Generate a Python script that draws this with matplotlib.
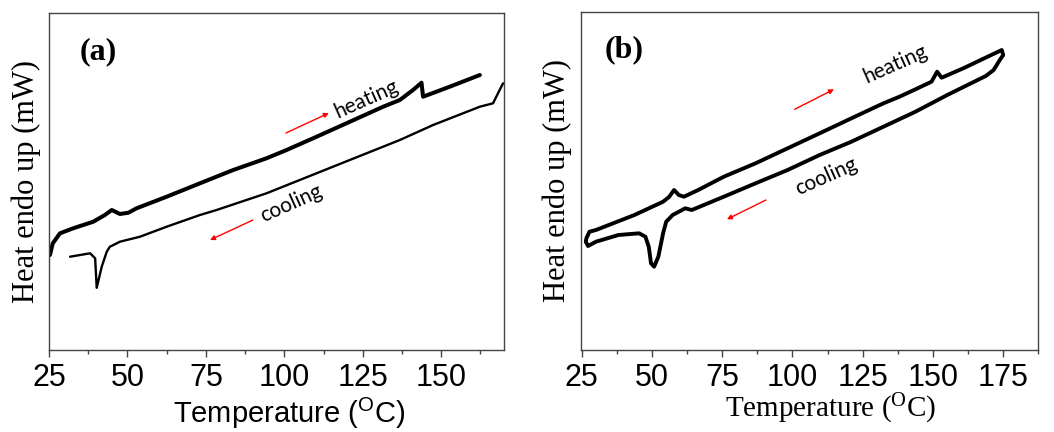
import matplotlib
matplotlib.use('agg')
from matplotlib import pyplot as plt

# panel (a): temperature (C) and signal (arbitrary units)
heat_a_t = [25.3, 26.2, 28.5, 32.7, 39.1, 42.8, 45.0, 47.6, 50.3, 52.9, 62.5, 73.1,
            83.7, 94.3, 100.7, 110.3, 120.9, 131.5, 136.8, 141.0, 143.7, 144.2, 152.7, 162.3]
heat_a_y = [95, 106.7, 116.7, 121.7, 128.3, 135, 140, 136, 137.3, 141.7, 153.3, 166.7,
            180, 191.7, 200, 213.3, 228.3, 243.3, 250, 260, 267.3, 253.3, 263.3, 275]

cool_a_t = [169.7, 168.6, 166.5, 162.3, 147.4, 136.8, 115.5, 94.3, 78.4, 73.1, 62.5,
            54.0, 47.6, 46.6, 44.4, 43.4, 41.8, 40.2, 39.7, 38.1, 31.7]
cool_a_y = [266.7, 260, 246.7, 243.3, 225, 210, 183.3, 156.7, 140, 135, 123.3,
            113.3, 108.3, 106.7, 103.3, 98.3, 83.3, 62.2, 91.7, 96.7, 93.3]

# panel (b)
heat_b_t = [26.5, 26.7, 27.8, 30.1, 43.8, 54.0, 56.2, 57.9, 59.6, 61.4, 66.5, 75.6,
            86.9, 98.3, 109.7, 121.0, 132.4, 138.1, 143.8, 149.5, 151.5, 153.1, 160.8, 174.5, 175.0]
heat_b_y = [108.3, 111.7, 118.3, 120, 135, 148.3, 153.3, 160, 155, 153.3, 160, 173.3,
            186.7, 201.7, 216.7, 231.7, 246.7, 253.3, 260.7, 268.3, 278.3, 272.3, 281.7, 300, 295]

cool_b_t = [175.0, 173.8, 171.6, 168.8, 155.1, 143.8, 132.4, 121.0, 109.7, 98.3, 86.9,
            75.6, 64.2, 61.9, 57.4, 55.1, 54.0, 52.3, 50.8, 49.7, 48.9, 47.7, 45.5,
            38.1, 30.1, 27.3, 26.5]
cool_b_y = [295, 290, 280, 274, 255, 238.3, 223.3, 208.3, 195, 180, 166.7,
            153.3, 140, 141.7, 135, 128.3, 116.7, 93.3, 83.3, 86.7, 103.3, 113.3, 116.7,
            115, 108.3, 104, 108.3]

ticks_a = [25, 50, 75, 100, 125, 150]
ticks_b = [25, 50, 75, 100, 125, 150, 175]

serif = 'Liberation Serif'
sans = 'Liberation Sans'
note_font = 'Lato'

fig = plt.figure(figsize=(10.54, 4.32), dpi=100)
ax1 = fig.add_axes([0.0465, 0.1898, 0.4317, 0.7801])
ax2 = fig.add_axes([0.551, 0.1898, 0.4341, 0.7831])

line_kw = dict(color='black', solid_joinstyle='round', solid_capstyle='round')
ax1.plot(heat_a_t, heat_a_y, lw=2.9, **line_kw)
ax1.plot(cool_a_t, cool_a_y, lw=1.7, **line_kw)
ax2.plot(heat_b_t, heat_b_y, lw=2.8, **line_kw)
ax2.plot(cool_b_t, cool_b_y, lw=2.8, **line_kw)

ax1.set_xlim(25, 170)
ax1.set_ylim(0, 337)
ax2.set_xlim(24.7, 180.7)
ax2.set_ylim(0, 338.3)

for ax, ticks in ((ax1, ticks_a), (ax2, ticks_b)):
    ax.set_xticks(ticks)
    ax.set_xticks([t + 12.5 for t in ticks], minor=True)
    ax.set_yticks([])
    ax.tick_params(axis='x', which='major', direction='out', length=5, width=1,
                   color='#444444', labelsize=22, pad=4)
    ax.tick_params(axis='x', which='minor', direction='out', length=3, width=1,
                   color='#444444')
    for lab in ax.get_xticklabels():
        lab.set_fontfamily(sans)
    for sp in ax.spines.values():
        sp.set_color('#444444')
        sp.set_linewidth(1)
    ax.set_ylabel('Heat endo up (mW)', fontsize=22, family=serif, labelpad=6)

ax1.set_xlabel(r'Temperature ($\mathregular{^{O}}$C)', fontsize=21, family=sans)
ax2.set_xlabel(r'Temperature ($\mathregular{^{O}}$C)', fontsize=21, family=serif)
ax1.xaxis.set_label_coords(0.527, -0.137)
ax2.xaxis.set_label_coords(0.547, -0.123)

ax1.text(0.068, 0.885, '(a)', transform=ax1.transAxes, fontsize=23, fontweight='bold',
         family=serif, ha='left', va='center')
ax2.text(0.052, 0.888, '(b)', transform=ax2.transAxes, fontsize=23, fontweight='bold',
         family=serif, ha='left', va='center')

# heating / cooling notes
ax1.text(126.2, 251, 'heating', rotation=24, fontsize=15, family=note_font,
         ha='center', va='center', rotation_mode='anchor')
ax1.text(102.3, 146.7, 'cooling', rotation=24, fontsize=15, family=note_font,
         ha='center', va='center', rotation_mode='anchor')
ax2.text(136.6, 286, 'heating', rotation=24, fontsize=15, family=note_font,
         ha='center', va='center', rotation_mode='anchor')
ax2.text(112.0, 173.3, 'cooling', rotation=24, fontsize=15, family=note_font,
         ha='center', va='center', rotation_mode='anchor')

arrow_kw = dict(arrowstyle='-|>', color='red', lw=1, mutation_scale=7,
                shrinkA=0, shrinkB=0)
ax1.annotate('', xy=(114.2, 237), xytext=(100.5, 217), arrowprops=arrow_kw)
ax1.annotate('', xy=(76.3, 110), xytext=(90.0, 130), arrowprops=arrow_kw)
ax2.annotate('', xy=(114.8, 260.7), xytext=(100.8, 240.7), arrowprops=arrow_kw)
ax2.annotate('', xy=(76.7, 130.7), xytext=(90.6, 150), arrowprops=arrow_kw)

fig.savefig('out.png', dpi=100)
